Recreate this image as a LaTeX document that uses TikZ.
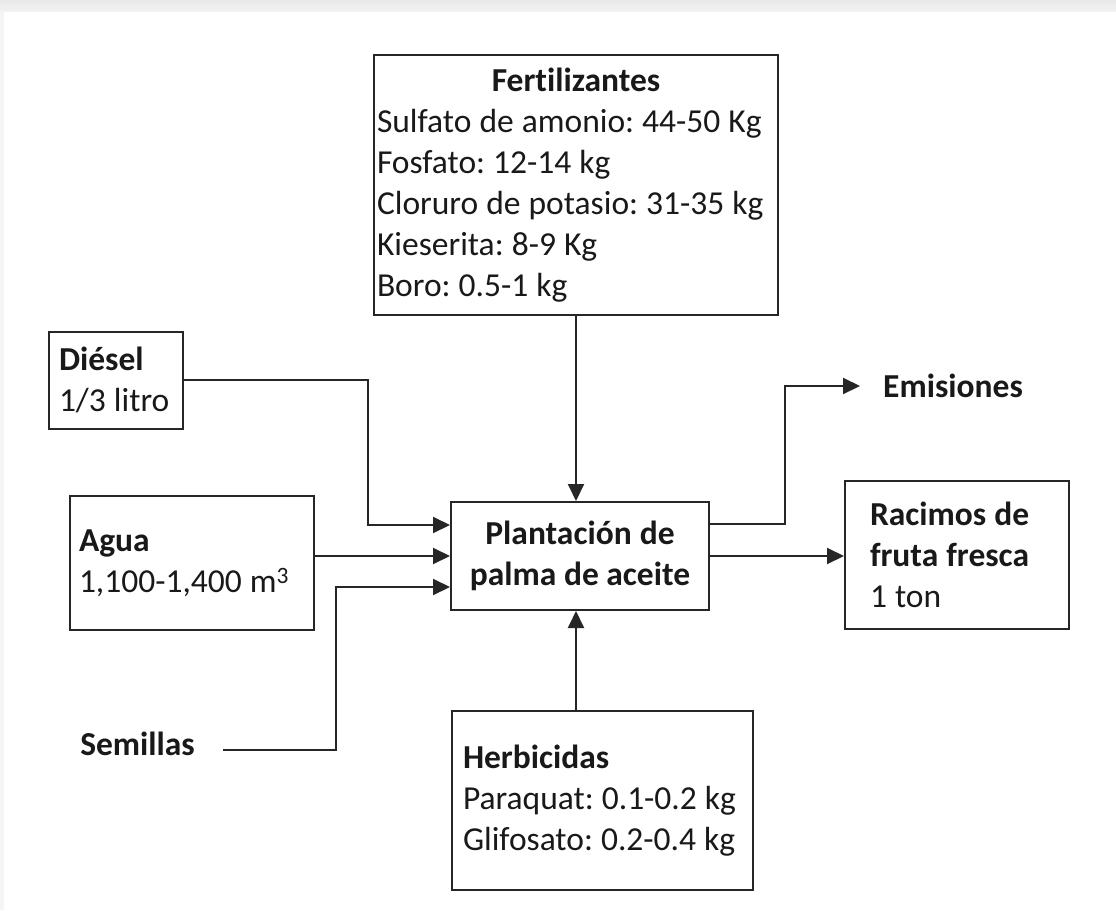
\documentclass[tikz,border=0pt]{standalone}
\usepackage{fontspec}
\setmainfont{Carlito}[Ligatures={NoCommon}]
\usetikzlibrary{arrows.meta}
\frenchspacing
\newcommand\diagfont{\fontsize{33.5}{41}\selectfont}
\newcommand\tightsp{\spaceskip=0.24em plus 0pt minus 0pt\relax\xspaceskip=\spaceskip}
\begin{document}
\begin{tikzpicture}[x=1pt,y=-1pt,
  every node/.style={font=\diagfont, text=black!90},
  box/.style={draw=black!85, line width=2pt, rectangle, align=left, inner ysep=0pt},
  flow/.style={draw=black!85, line width=2pt, -{Triangle[length=17pt,width=16pt]}}]

% page frame
\useasboundingbox (0,0) rectangle (1116,910);
\fill[white] (0,0) rectangle (1116,910);
\shade[top color=black!9, bottom color=black!5] (0,0) rectangle (1116,11);
\fill[black!4] (0,11) rectangle (4,910);

% input and output boxes
\node[box, text width=398pt, inner xsep=3pt, minimum height=260pt] (fert) at (576,185)
  {\tightsp\makebox[\linewidth]{\bfseries Fertilizantes}\\\mbox{Sulfato de amonio: 44-50 Kg}\\\mbox{Fosfato: 12-14 kg}\\\mbox{Cloruro de potasio: 31-35 kg}\\\mbox{Kieserita: 8-9 Kg}\\\mbox{Boro: 0.5-1 kg}};
\node[box, text width=114pt, inner xsep=10pt, minimum height=97pt] (diesel) at (116,380)
  {\tightsp{\bfseries Diésel}\\\mbox{1/3 litro}};
\node[box, text width=226pt, inner xsep=9pt, minimum height=134pt] (agua) at (192,563)
  {\tightsp{\bfseries Agua}\\\mbox{1,100-1,400 m\textsuperscript{3}}};
\node[box, align=center, inner xsep=0pt, minimum width=258pt, minimum height=108pt] (plant) at (580,556)
  {\tightsp\bfseries Plantación de\\\bfseries palma de aceite};
\node[box, text width=174pt, inner xsep=25pt, minimum height=148pt] (rac) at (957,555)
  {\tightsp\mbox{\bfseries Racimos de}\\\mbox{\bfseries fruta fresca}\\1 ton};
\node[box, text width=279pt, inner xsep=11pt, minimum height=179pt] (herb) at (602.5,800.5)
  {\tightsp{\bfseries Herbicidas}\\\mbox{Paraquat: 0.1-0.2 kg}\\\mbox{Glifosato: 0.2-0.4 kg}};

% free labels
\node[inner sep=0pt, anchor=west] (emis) at (883,386) {\bfseries Emisiones};
\node[inner sep=0pt, anchor=east] (sem) at (195,744) {\bfseries Semillas};

% flows
\draw[flow] (fert.south) -- (fert.south |- plant.north);
\draw[flow] (herb.north -| fert.south) -- (fert.south |- plant.south);
\draw[flow] (diesel.east) -| ([xshift=-82pt,yshift=31pt]plant.west) -- ([yshift=31pt]plant.west);
\draw[flow] (agua.east |- plant.west) -- (plant.west);
\draw[flow] ([xshift=28pt,yshift=-6pt]sem.east) -| ([xshift=-114pt,yshift=-31pt]plant.west) -- ([yshift=-31pt]plant.west);
\draw[flow] ([yshift=32pt]plant.east) -| ([xshift=-98pt]emis.west) -- ([xshift=-23pt]emis.west);
\draw[flow] (plant.east) -- (plant.east -| rac.west);
\end{tikzpicture}
\end{document}
